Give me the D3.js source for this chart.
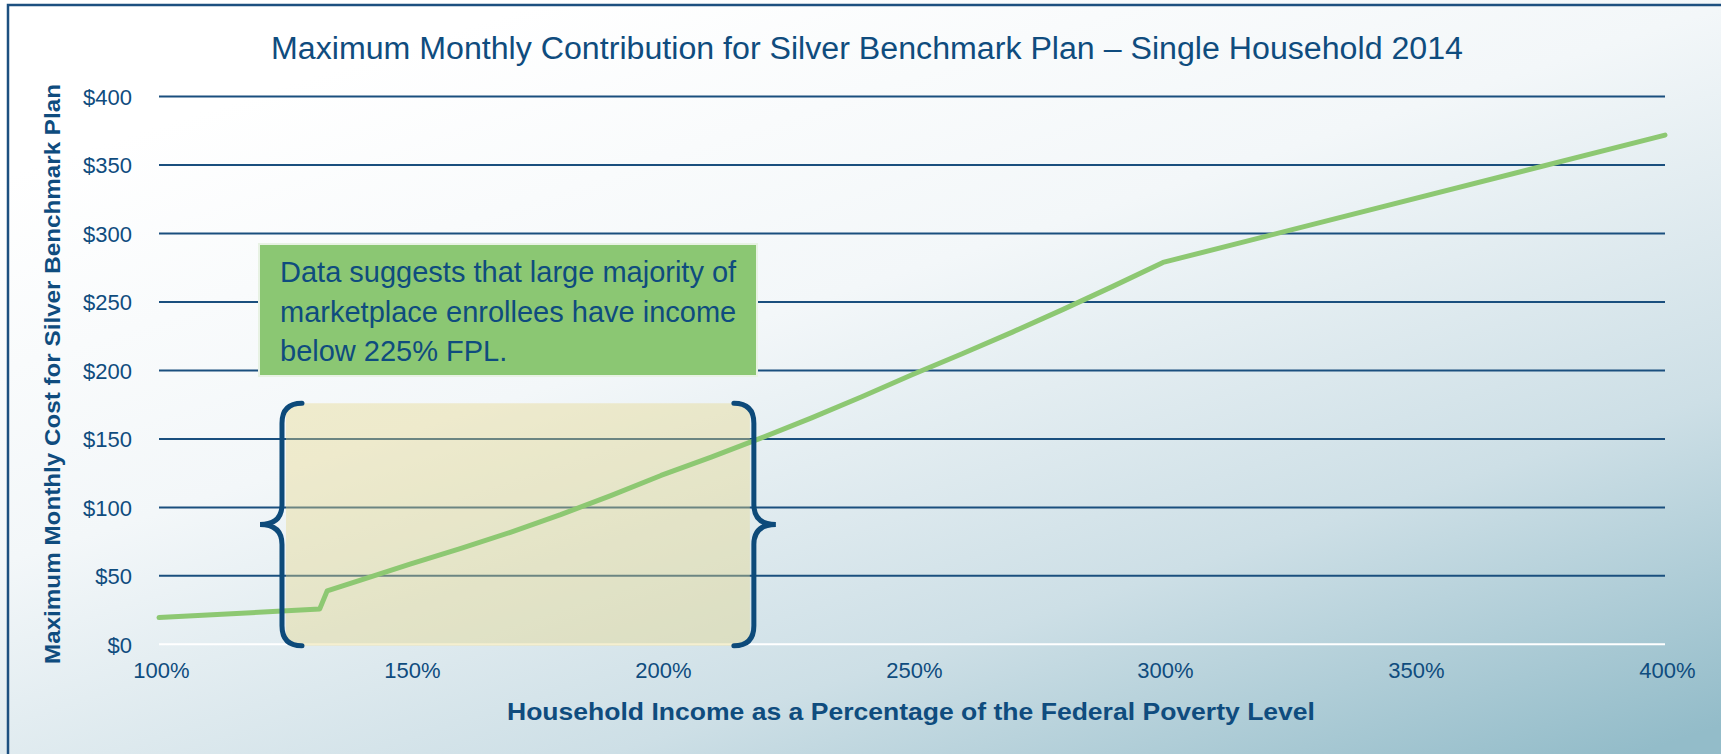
<!DOCTYPE html>
<html>
<head>
<meta charset="utf-8">
<script src="https://cdn.jsdelivr.net/npm/d3@7"></script>
<style>
    body { margin: 0; padding: 0; overflow: hidden; }
    #chart { width: 1721px; height: 754px; }
</style>
</head>
<body>
<div id="chart"></div>
<script>
// household income as % of FPL, and max monthly cost in $
const fplPct = [100, 132, 133.5, 140, 150, 160, 170, 180, 190, 200, 210, 220, 230, 240, 250, 260, 270, 280, 290, 300, 400];
const monthlyCost = [19.5, 25.7, 39, 46.7, 58.6, 69.8, 81.8, 94.7, 108.6, 123.3, 136.7, 150.7, 165.4, 180.8, 196.9, 212.2, 228, 244.4, 261.4, 278.9, 371.9];

const xTicks = [100, 150, 200, 250, 300, 350, 400];
const yTicks = [0, 50, 100, 150, 200, 250, 300, 350, 400];

const chartTitle = 'Maximum Monthly Contribution for Silver Benchmark Plan \u2013 Single Household 2014';
const xTitle = 'Household Income as a Percentage of the Federal Poverty Level';
const yTitle = 'Maximum Monthly Cost for Silver Benchmark Plan';
const noteLines = ['Data suggests that large majority of', 'marketplace enrollees have income', 'below 225% FPL.'];
const bracketRange = [124.5, 218.5]; // % FPL covered by the shaded bracket
const bracketCost = [-1, 176];

function lineChart(parentId) {

    let width = 1721;
    let height = 754;
    let blue = '#0f4c7e';
    let font = 'Liberation Sans, Arial, sans-serif';

    let svg = d3.select('#' + parentId).append('svg')
        .attr('width', width)
        .attr('height', height);

    // background gradient
    let defs = svg.append('defs');
    let bg = defs.append('linearGradient')
        .attr('id', 'bg')
        .attr('x1', '0.25').attr('y1', '0.05')
        .attr('x2', '0.95').attr('y2', '1');
    bg.append('stop').attr('offset', '0').attr('stop-color', '#ffffff');
    bg.append('stop').attr('offset', '0.35').attr('stop-color', '#f3f7f9');
    bg.append('stop').attr('offset', '0.7').attr('stop-color', '#cddfe6');
    bg.append('stop').attr('offset', '1').attr('stop-color', '#93bcc9');

    svg.append('rect')
        .attr('width', width)
        .attr('height', height)
        .attr('fill', 'url(#bg)');

    // frame
    svg.append('path')
        .attr('d', 'M8,' + height + 'V5H' + width)
        .attr('fill', 'none')
        .style('stroke', '#1d5080')
        .style('stroke-width', 2.5);

    let xScale = d3.scaleLinear()
        .domain([100, 400])
        .range([159, 1665]);

    let yScale = d3.scaleLinear()
        .domain([0, 400])
        .range([644.3, 96.6]);

    // title
    svg.append('text')
        .attr('x', 867)
        .attr('y', 59)
        .attr('text-anchor', 'middle')
        .attr('textLength', 1192)
        .attr('lengthAdjust', 'spacingAndGlyphs')
        .style('font-family', font)
        .style('font-size', '31px')
        .style('fill', blue)
        .text(chartTitle);

    // gridlines
    let grid = svg.append('g').classed('grid', true);
    grid.selectAll('line')
        .data(yTicks)
        .enter().append('line')
        .attr('x1', xScale(100))
        .attr('x2', xScale(400))
        .attr('y1', function (d) { return yScale(d); })
        .attr('y2', function (d) { return yScale(d); })
        .style('stroke', function (d) { return d === 0 ? '#ffffff' : '#1a4f7e'; })
        .style('stroke-width', 2);

    // axes (labels only)
    let yAxis = d3.axisLeft(yScale)
        .tickValues(yTicks)
        .tickSize(0)
        .tickPadding(0)
        .tickFormat(function (d) { return '$' + d; });

    let xAxis = d3.axisBottom(xScale)
        .tickValues(xTicks)
        .tickSize(0)
        .tickPadding(0)
        .tickFormat(function (d) { return d + '%'; });

    let yG = svg.append('g')
        .attr('transform', 'translate(132,0)')
        .call(yAxis);

    let xG = svg.append('g')
        .attr('transform', 'translate(2,662)')
        .call(xAxis);

    [xG, yG].forEach(function (g) {
        g.select('.domain').remove();
        g.selectAll('text')
            .style('font-family', font)
            .style('font-size', '22px')
            .style('fill', blue);
    });
    xG.selectAll('text').attr('dy', '0.71em');
    yG.selectAll('text').attr('dy', '0.35em');

    // axis titles
    svg.append('text')
        .attr('x', 911)
        .attr('y', 720)
        .attr('text-anchor', 'middle')
        .attr('textLength', 808)
        .attr('lengthAdjust', 'spacingAndGlyphs')
        .style('font-family', font)
        .style('font-weight', 'bold')
        .style('font-size', '24px')
        .style('fill', blue)
        .text(xTitle);

    svg.append('text')
        .attr('transform', 'translate(60,374) rotate(-90)')
        .attr('text-anchor', 'middle')
        .attr('textLength', 580)
        .attr('lengthAdjust', 'spacingAndGlyphs')
        .style('font-family', font)
        .style('font-weight', 'bold')
        .style('font-size', '22.5px')
        .style('fill', blue)
        .text(yTitle);

    // shaded bracket region
    let bx0 = xScale(bracketRange[0]);
    let bx1 = xScale(bracketRange[1]);
    let by0 = yScale(bracketCost[1]);
    let by1 = yScale(bracketCost[0]);

    svg.append('rect')
        .attr('x', bx0 + 4)
        .attr('y', by0)
        .attr('width', bx1 - bx0 - 8)
        .attr('height', by1 - by0)
        .attr('rx', 6)
        .attr('fill', '#e6d68a')
        .attr('fill-opacity', 0.4);

    // data line
    let points = fplPct.map(function (p, i) { return [p, monthlyCost[i]]; });
    let line = d3.line()
        .x(function (d) { return xScale(d[0]); })
        .y(function (d) { return yScale(d[1]); });

    svg.append('path')
        .datum(points)
        .attr('d', line)
        .attr('fill', 'none')
        .style('stroke', '#8dc872')
        .style('stroke-width', 5)
        .style('stroke-linejoin', 'round')
        .style('stroke-linecap', 'round');

    // curly braces
    let ym = (by0 + by1) / 2;
    function brace(x, dir) {
        let r = 20 * dir;
        let tip = 22 * dir;
        return 'M' + (x + r) + ',' + by0 +
            'Q' + x + ',' + by0 + ' ' + x + ',' + (by0 + 20) +
            'L' + x + ',' + (ym - 20) +
            'Q' + x + ',' + ym + ' ' + (x - tip) + ',' + ym +
            'Q' + x + ',' + ym + ' ' + x + ',' + (ym + 20) +
            'L' + x + ',' + (by1 - 20) +
            'Q' + x + ',' + by1 + ' ' + (x + r) + ',' + by1;
    }
    svg.selectAll('.brace')
        .data([[bx0, 1], [bx1, -1]])
        .enter().append('path')
        .classed('brace', true)
        .attr('d', function (d) { return brace(d[0], d[1]); })
        .attr('fill', 'none')
        .style('stroke', '#0d4a7a')
        .style('stroke-width', 5)
        .style('stroke-linecap', 'round');

    // note box
    let note = svg.append('g').attr('transform', 'translate(259,244)');
    note.append('rect')
        .attr('width', 498)
        .attr('height', 132)
        .attr('fill', '#8bc773')
        .style('stroke', '#e8f2e4')
        .style('stroke-width', 2);
    note.selectAll('text')
        .data(noteLines)
        .enter().append('text')
        .attr('x', 21)
        .attr('y', function (d, i) { return 38 + i * 39.5; })
        .style('font-family', font)
        .style('font-size', '29px')
        .style('fill', blue)
        .text(function (d) { return d; });
}

lineChart('chart');
</script>
</body>
</html>
